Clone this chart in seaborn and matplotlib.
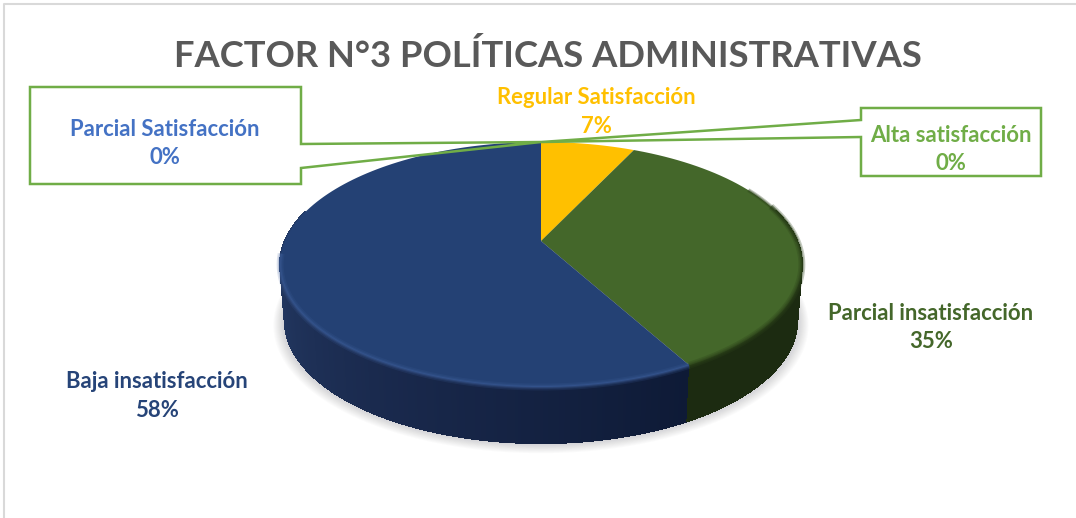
import numpy as np
import pandas as pd
import seaborn as sns
import matplotlib
matplotlib.use("Agg")
import matplotlib.pyplot as plt
from matplotlib.collections import PolyCollection
from matplotlib.colors import to_rgb
from matplotlib.patches import Polygon
from matplotlib.path import Path
from matplotlib.transforms import Affine2D, Transform

# Survey shares, in pie order (clockwise from twelve o'clock)
categories = ["Regular Satisfacción", "Parcial insatisfacción", "Baja insatisfacción",
              "Alta satisfacción", "Parcial Satisfacción"]
shares = [7, 35, 58, 0, 0]
slice_colors = ["#FFC000", "#44672A", "#244174", "#70AD47", "#4472C4"]
label_colors = ["#FFC000", "#44672A", "#264478", "#70AD47", "#4472C4"]
chart_title = "FACTOR N°3 POLÍTICAS ADMINISTRATIVAS"

df = pd.DataFrame({"categoria": categories, "porcentaje": shares})

sns.set_theme(style="white")
plt.rcParams["font.family"] = ["Lato", "DejaVu Sans"]

W, H = 1076, 518
fig = plt.figure(figsize=(W / 100, H / 100), dpi=100, facecolor="white")
ax = fig.add_axes([0, 0, 1, 1])


class TiltedDisc(Transform):
    """Perspective view of the unit disc, giving canvas pixel coordinates."""
    input_dims = output_dims = 2
    is_separable = False
    has_inverse = False

    def __init__(self, cx=541.0, cy=241.0, a=256.0, b=118.0, k=0.192, scale=1.0, drop=0.0):
        super().__init__()
        self.cx, self.cy, self.a, self.b, self.k = cx, cy, a, b, k
        self.scale_, self.drop = scale, drop

    def transform_non_affine(self, values):
        v = np.asarray(values, dtype=float)
        d = 1 + self.k * v[:, 1]
        px = self.cx + self.scale_ * self.a * v[:, 0] / d
        py = self.cy + self.drop - self.b * v[:, 1] / d
        return np.column_stack([px, py])

    def transform_path_non_affine(self, path):
        polys = path.transformed(Affine2D().scale(800)).to_polygons(closed_only=False)
        if not polys:
            return Path(self.transform_non_affine(path.vertices))
        return Path(self.transform_non_affine(np.asarray(polys[0]) / 800))


top = TiltedDisc()
base = TiltedDisc(scale=0.982, drop=56.0)


def rim(theta_deg):
    t = np.radians(theta_deg)
    return np.column_stack([np.cos(t), np.sin(t)])


palette = sns.color_palette(slice_colors)
wedges, _ = ax.pie(df["porcentaje"], colors=palette, startangle=90, counterclock=False,
                   radius=1, center=(0, 0), frame=True, wedgeprops={"linewidth": 0, "edgecolor": "none"})
for w in wedges:
    w.set_transform(top + ax.transData)
    w.set_zorder(5)

ax.set_aspect("auto")
ax.set_xlim(0, W)
ax.set_ylim(H, 0)
ax.set_axis_off()

# Soft drop shadow under the disc
circle = rim(np.linspace(0, 360, 361))
outline = base.transform_non_affine(circle)
for spread in np.linspace(12, 0, 13):
    ring = outline + np.array([0, spread * 0.35])
    centre = ring.mean(axis=0)
    ring = centre + (ring - centre) * (1 + spread / 270)
    ax.add_patch(Polygon(ring, closed=True, facecolor="#70707a", edgecolor="none",
                         alpha=0.028, zorder=1))

# Angles of the slice boundaries on the front of the disc
blue_end = wedges[2].theta2 % 360
green_end = wedges[1].theta2 % 360


def side_color(theta):
    # Front wall: shade of the slice that owns this angle
    a = theta % 360
    if 90 <= a <= blue_end:
        f = np.clip((a - 175) / (blue_end - 175), 0, 1)
        c0, c1, c2 = map(np.array, (to_rgb("#263D68"), to_rgb("#1A2A4E"), to_rgb("#0E1A36")))
        return c0 + (c1 - c0) * f * 2 if f < 0.5 else c1 + (c2 - c1) * (f - 0.5) * 2
    return np.array(to_rgb("#1C2B11"))


angles = np.arange(165, 376, 0.5)
upper = top.transform_non_affine(rim(angles))
lower = base.transform_non_affine(rim(angles))
quads = [np.vstack([upper[i], upper[i + 1], lower[i + 1], lower[i]]) for i in range(len(angles) - 1)]
cols = [side_color(t + 0.25) for t in angles[:-1]]
ax.add_collection(PolyCollection(quads, facecolors=cols, edgecolors=cols, linewidths=0.8,
                                 antialiaseds=False, zorder=3))


# Bevel along the front of the disc rim, each slice with its own tone
def stroke(t0, t1, color, widths, alpha, z=6):
    pts = top.transform_non_affine(rim(np.linspace(t0, t1, 200)))
    for lw, al in zip(widths, alpha):
        ax.plot(pts[:, 0], pts[:, 1], color=color, lw=lw, alpha=al, zorder=z,
                solid_capstyle="butt")


stroke(186, blue_end, "#3D5E9A", [5, 3, 1.5], [0.18, 0.24, 0.36])
stroke(blue_end, 378, "#2B4119", [5, 3, 1.5], [0.28, 0.32, 0.45])
stroke(0, 28, "#2B4119", [3, 1.5], [0.3, 0.4])

# Callout boxes for the empty slices, their pointers meet at the slices' position on the rim
tip = top.transform_non_affine(rim(np.array([wedges[4].theta1 % 360])))[0]
green_line = "#70AD47"
left_box = [(30, 87), (301, 87), (301, 144), tuple(tip), (301, 168), (301, 184), (30, 184)]
right_box = [(861, 108), (1041, 108), (1041, 176), (861, 176), (861, 137), tuple(tip), (861, 120)]
for shape in (left_box, right_box):
    ax.add_patch(Polygon(shape, closed=True, fill=False, edgecolor=green_line, linewidth=1.8,
                         joinstyle="miter", zorder=8))

# Thin chart frame
ax.plot([4, 4, W], [H, 4, 4], color="#D9D9D9", lw=1.5, zorder=0)

ax.text(548, 56, chart_title, ha="center", va="center", fontsize=26.2, fontweight="bold",
        color="#595959", zorder=10)

label_spots = {
    "Regular Satisfacción": (596, 98),
    "Parcial insatisfacción": (931, 313),
    "Baja insatisfacción": (157, 382),
    "Alta satisfacción": (951, 135),
    "Parcial Satisfacción": (165, 129),
}
for name, value, color in zip(categories, shares, label_colors):
    x, y = label_spots[name]
    ax.text(x, y, name, ha="center", va="center", fontsize=15.9, fontweight="bold",
            color=color, zorder=10)
    ax.text(x, y + 28.5, f"{value}%", ha="center", va="center", fontsize=15.9, fontweight="bold",
            color=color, zorder=10)

fig.savefig("out.png", dpi=100, facecolor="white")
